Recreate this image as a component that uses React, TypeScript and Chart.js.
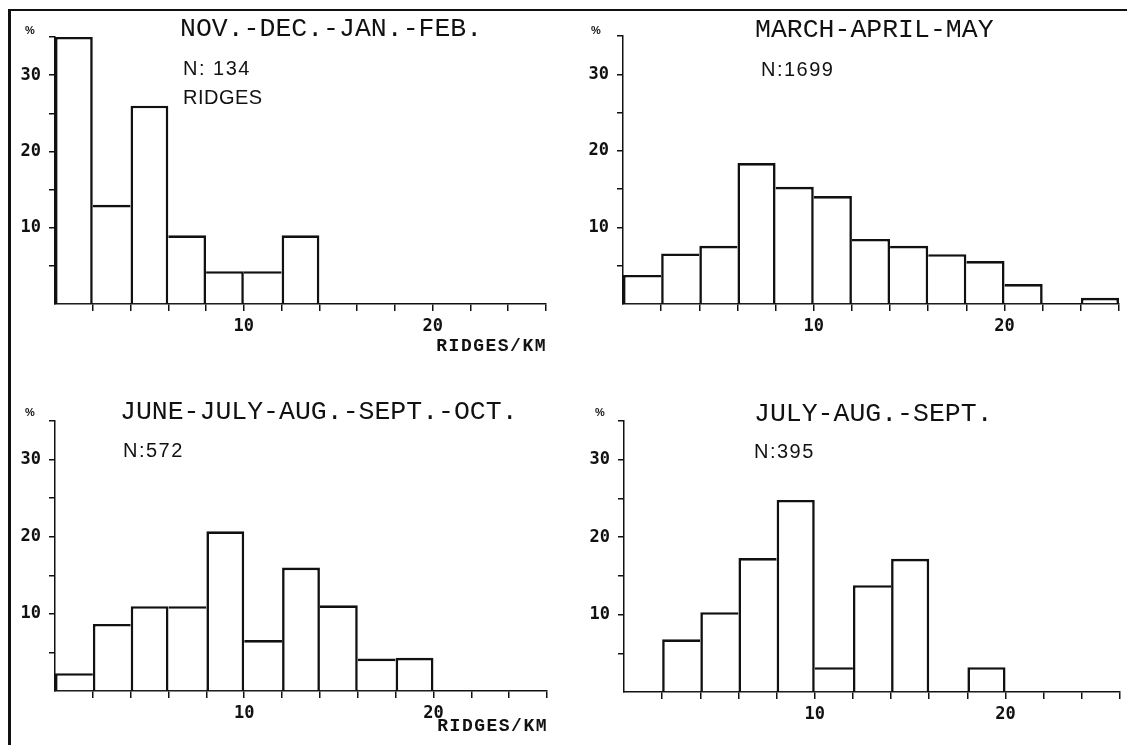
import React, { useEffect, useRef } from 'react';
import { Chart, registerables } from 'chart.js';

Chart.register(...registerables);

// ---------- data ----------
const binCenters = [1, 3, 5, 7, 9, 11, 13, 15, 17, 19, 21, 23, 25];
const novFebValues = [35, 13, 26, 9, 4.3, 4.3, 9, 0, 0, 0, 0, 0, 0];
const marMayValues = [3.8, 6.6, 7.6, 18.4, 15.3, 14.1, 8.5, 7.6, 6.5, 5.6, 2.6, 0, 0.8];
const junOctValues = [2.3, 8.7, 11.0, 11.0, 20.7, 6.6, 16.0, 11.1, 4.2, 4.3, 0, 0, 0];
const julSepValues = [0, 6.8, 10.3, 17.3, 24.8, 3.2, 13.8, 17.2, 0, 3.2, 0, 0, 0];

const yTickLabels = [10, 20, 30];
const xTickLabels = [10, 20];

const panelTitles = ['NOV.-DEC.-JAN.-FEB.', 'MARCH-APRIL-MAY', 'JUNE-JULY-AUG.-SEPT.-OCT.', 'JULY-AUG.-SEPT.'];
const sampleSizes = ['N: 134', 'N:1699', 'N:572', 'N:395'];
const subLabel = 'RIDGES';
const xAxisTitle = 'RIDGES/KM';
const unitLabel = '%';

// ---------- layout ----------
const W = 1127;
const H = 745;
const INK = '#111111';
const BAR_BORDER = 2.6;
const Y_AXIS_W = 50;
const X_AXIS_H = 40;

type Pt = [number, number];
interface PanelLayout {
  values: number[];
  title: string;
  n: string;
  area: { left: number; right: number; top: number; bottom: number };
  titlePos: Pt;
  nPos: Pt;
  subPos?: Pt;
  pctPos: Pt;
  axisTitlePos?: Pt;
}

const panels: PanelLayout[] = [
  {
    values: novFebValues, title: panelTitles[0], n: sampleSizes[0],
    area: { left: 55, right: 546, top: 37, bottom: 304 },
    titlePos: [180, 36], nPos: [183, 75], subPos: [183, 104], pctPos: [25, 34], axisTitlePos: [547, 351],
  },
  {
    values: marMayValues, title: panelTitles[1], n: sampleSizes[1],
    area: { left: 623, right: 1119, top: 36, bottom: 304 },
    titlePos: [755, 37], nPos: [761, 76], pctPos: [591, 34],
  },
  {
    values: junOctValues, title: panelTitles[2], n: sampleSizes[2],
    area: { left: 55, right: 547, top: 421, bottom: 691 },
    titlePos: [120, 419], nPos: [123, 457], pctPos: [25, 416], axisTitlePos: [548, 731],
  },
  {
    values: julSepValues, title: panelTitles[3], n: sampleSizes[3],
    area: { left: 624, right: 1120, top: 421, bottom: 692 },
    titlePos: [754, 421], nPos: [754, 458], pctPos: [595, 416],
  },
];

function drawText(ctx: CanvasRenderingContext2D, text: string, pos: Pt, font: string, align: CanvasTextAlign, spacing: string) {
  ctx.save();
  ctx.font = font;
  ctx.fillStyle = INK;
  ctx.textAlign = align;
  ctx.textBaseline = 'alphabetic';
  try { (ctx as any).letterSpacing = spacing; } catch (e) { /* ignore */ }
  ctx.fillText(text, pos[0], pos[1]);
  ctx.restore();
}

function buildConfig(p: PanelLayout): any {
  const vals = p.values;
  const textPlugin = {
    id: 'panelText',
    afterDraw(chart: any) {
      const ctx = chart.ctx as CanvasRenderingContext2D;
      drawText(ctx, p.title, p.titlePos, "26.5px 'Liberation Mono'", 'left', '0px');
      drawText(ctx, p.n, p.nPos, "20px 'Liberation Sans'", 'left', '1.5px');
      if (p.subPos) drawText(ctx, subLabel, p.subPos, "20px 'Liberation Sans'", 'left', '0.5px');
      drawText(ctx, unitLabel, p.pctPos, "bold 11px 'Liberation Sans'", 'left', '0px');
      if (p.axisTitlePos) drawText(ctx, xAxisTitle, p.axisTitlePos, "bold 18px 'Liberation Mono'", 'right', '1.5px');
    },
  };

  const tickFont = { family: "'DejaVu Sans Mono'", size: 17, weight: 'bold' };

  return {
    type: 'bar',
    data: {
      datasets: [
        {
          data: binCenters.map((x, i) => ({ x, y: vals[i] })),
          backgroundColor: '#ffffff',
          borderColor: INK,
          borderSkipped: 'start',
          borderWidth: (c: any) => {
            const i = c.dataIndex;
            if (i === undefined || i === null) return 0;
            const cur = vals[i] || 0;
            const prev = i > 0 ? vals[i - 1] : 0;
            const next = i < vals.length - 1 ? vals[i + 1] : 0;
            return {
              top: BAR_BORDER,
              bottom: 0,
              left: prev < cur ? BAR_BORDER : 0,
              right: next <= cur ? BAR_BORDER : 0,
            };
          },
          barPercentage: 1,
          categoryPercentage: 1,
          inflateAmount: 0,
        },
      ],
    },
    options: {
      animation: false,
      responsive: false,
      devicePixelRatio: 1,
      events: [],
      layout: {
        padding: {
          left: p.area.left - Y_AXIS_W,
          top: p.area.top,
          right: W - p.area.right,
          bottom: H - p.area.bottom - X_AXIS_H,
        },
      },
      plugins: {
        legend: { display: false },
        tooltip: { enabled: false },
        title: { display: false },
      },
      scales: {
        x: {
          type: 'linear',
          min: 0,
          max: 26,
          offset: false,
          z: 1,
          afterFit: (s: any) => { s.height = X_AXIS_H; },
          border: { display: true, color: INK, width: 1.5 },
          grid: {
            offset: false,
            drawOnChartArea: false,
            drawTicks: true,
            tickLength: 7,
            lineWidth: 1.5,
            color: (c: any) => (c.tick && c.tick.value === 0 ? 'rgba(0,0,0,0)' : INK),
          },
          ticks: {
            stepSize: 2,
            autoSkip: false,
            maxRotation: 0,
            padding: 5,
            color: INK,
            font: tickFont,
            callback: (v: any) => (xTickLabels.includes(Number(v)) ? String(v) : ''),
          },
        },
        y: {
          type: 'linear',
          min: 0,
          max: 35,
          z: 1,
          afterFit: (s: any) => { s.width = Y_AXIS_W; },
          border: { display: true, color: INK, width: 1.5 },
          grid: {
            drawOnChartArea: false,
            drawTicks: true,
            tickLength: 6,
            lineWidth: 1.5,
            color: (c: any) => (c.tick && c.tick.value === 0 ? 'rgba(0,0,0,0)' : INK),
          },
          ticks: {
            stepSize: 5,
            autoSkip: false,
            padding: 8,
            color: INK,
            font: tickFont,
            callback: (v: any) => (yTickLabels.includes(Number(v)) ? String(v) : ''),
          },
        },
      },
    },
    plugins: [textPlugin],
  };
}

function Panel({ cfg }: { cfg: PanelLayout }) {
  const ref = useRef<HTMLCanvasElement>(null);
  useEffect(() => {
    if (!ref.current) return;
    const chart = new Chart(ref.current, buildConfig(cfg));
    return () => chart.destroy();
  }, [cfg]);
  return (
    <canvas
      ref={ref}
      width={W}
      height={H}
      style={{ position: 'absolute', left: 0, top: 0, width: W, height: H }}
    />
  );
}

export default function App() {
  return (
    <div style={{ position: 'absolute', left: 0, top: 0, width: W, height: H, background: '#fff', overflow: 'hidden' }}>
      <div style={{ position: 'absolute', left: 8, top: 9, width: W - 8, height: 2, background: INK }} />
      <div style={{ position: 'absolute', left: 8, top: 9, width: 2.5, height: H - 9, background: INK }} />
      {panels.map((p, i) => (
        <Panel key={i} cfg={p} />
      ))}
    </div>
  );
}
